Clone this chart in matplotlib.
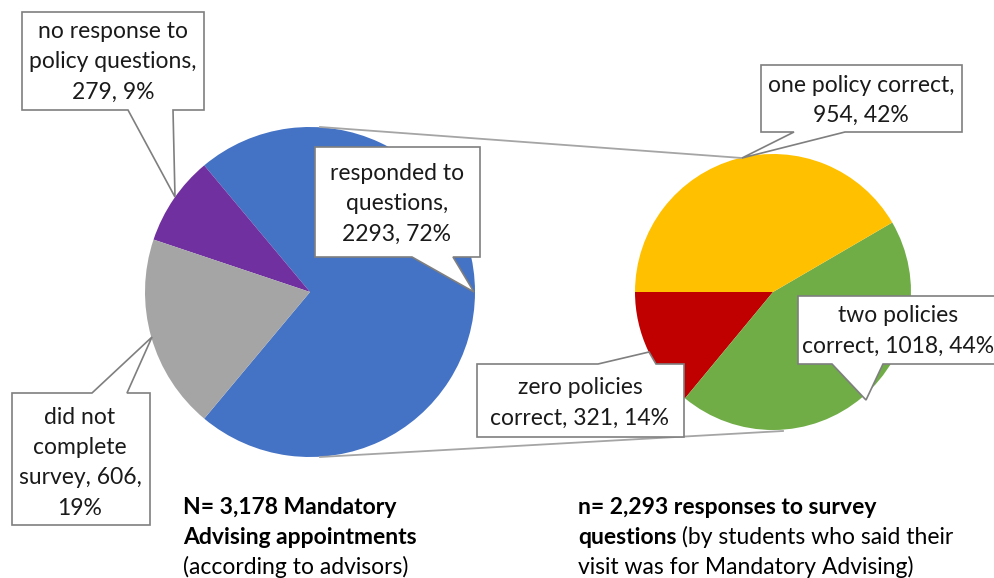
import matplotlib
matplotlib.use('Agg')
import matplotlib.pyplot as plt
from matplotlib.patches import Polygon

plt.rcParams['font.family'] = ['Lato', 'DejaVu Sans']

# data
outer_labels = ['responded to\nquestions', 'no response to\npolicy questions', 'did not\ncomplete\nsurvey']
outer_values = [2293, 279, 606]
outer_colors = ['#4472C4', '#7030A0', '#A5A5A5']

inner_labels = ['zero policies\ncorrect', 'two policies\ncorrect', 'one policy correct']
inner_values = [321, 1018, 954]
inner_colors = ['#C00000', '#70AD47', '#FFC000']

W, H = 995, 578
FS = 16.5


def py(y):
    # pixel row (top-down) -> data y
    return H - y


fig = plt.figure(figsize=(W / 100, H / 100), dpi=100)
ax = fig.add_axes([0, 0, 1, 1])

# left pie, blue slice centred on the right
blue_angle = 360 * outer_values[0] / sum(outer_values)
ax.pie(outer_values, colors=outer_colors, center=(310, py(292)), radius=165,
       startangle=-blue_angle / 2, counterclock=True,
       wedgeprops=dict(linewidth=0))
# right pie
ax.pie(inner_values, colors=inner_colors, center=(773, py(292)), radius=138,
       startangle=180, counterclock=True, wedgeprops=dict(linewidth=0))

ax.set_xlim(0, W)
ax.set_ylim(0, H)
ax.set_aspect('equal')
ax.axis('off')

# connector lines between pies
ax.plot([320, 742], [py(127), py(158)], color='#A5A5A5', lw=1.3, zorder=3)
ax.plot([320, 783], [py(457), py(431)], color='#A5A5A5', lw=1.3, zorder=3)


def callout(x0, y0, x1, y1, side, b1, b2, tip):
    tl, tr, br, bl = (x0, y0), (x1, y0), (x1, y1), (x0, y1)
    if side == 'bottom':
        pts = [tl, tr, br, (b2, y1), tip, (b1, y1), bl]
    else:
        pts = [tl, (b1, y0), tip, (b2, y0), tr, br, bl]
    pts = [(x, py(y)) for x, y in pts]
    ax.add_patch(Polygon(pts, closed=True, facecolor='white',
                         edgecolor='#7F7F7F', lw=1.2, zorder=5))


def lines_text(lines, cx, y_first, step=30.5):
    for i, s in enumerate(lines):
        ax.text(cx, py(y_first + i * step), s, ha='center', va='center',
                fontsize=FS, color='#1a1a1a', zorder=6)


def pct(v, tot):
    return f'{round(100 * v / tot)}%'


tot_o = sum(outer_values)
tot_i = sum(inner_values)

# outer labels
callout(22, 12, 204, 110, 'bottom', 128, 173, (175, 197))
lines_text(['no response to', 'policy questions,',
            f'{outer_values[1]}, {pct(outer_values[1], tot_o)}'], 113, 31)

callout(315, 147, 480, 257, 'bottom', 412, 453, (474, 292))
lines_text(['responded to', 'questions,', f'{outer_values[0]}, {pct(outer_values[0], tot_o)}'], 397, 173)

callout(12, 393, 150, 525, 'top', 92, 127, (152, 337))
lines_text(['did not', 'complete', f'survey, {outer_values[2]},', pct(outer_values[2], tot_o)], 80, 417)

# inner labels
callout(761, 65, 962, 132, 'bottom', 794, 845, (742, 158))
lines_text(['one policy correct,', f'{inner_values[2]}, {pct(inner_values[2], tot_i)}'], 861, 85)

callout(798, 296, 998, 364, 'bottom', 832, 883, (866, 400))
lines_text(['two policies', f'correct, {inner_values[1]}, {pct(inner_values[1], tot_i)}'], 898, 316)

callout(477, 364, 684, 437, 'top', 598, 656, (649, 352))
lines_text(['zero policies', f'correct, {inner_values[0]}, {pct(inner_values[0], tot_i)}'], 580, 388)

# captions
ax.text(183, py(507), f'N= {tot_o:,} Mandatory', ha='left', va='center', fontsize=FS, weight='bold', color='black')
ax.text(183, py(537), 'Advising appointments', ha='left', va='center', fontsize=FS, weight='bold', color='black')
ax.text(183, py(567), '(according to advisors)', ha='left', va='center', fontsize=FS, color='black')

ax.text(578, py(507), f'n= {tot_i:,} responses to survey', ha='left', va='center', fontsize=FS, weight='bold', color='black')
t = ax.text(578, py(537), 'questions', ha='left', va='center', fontsize=FS, weight='bold', color='black')
ax.annotate(' (by students who said their', xy=(1, 0), xycoords=t, ha='left', va='bottom',
            fontsize=FS, color='black')
ax.text(578, py(567), 'visit was for Mandatory Advising)', ha='left', va='center', fontsize=FS, color='black')

fig.savefig('out.png', dpi=100)
